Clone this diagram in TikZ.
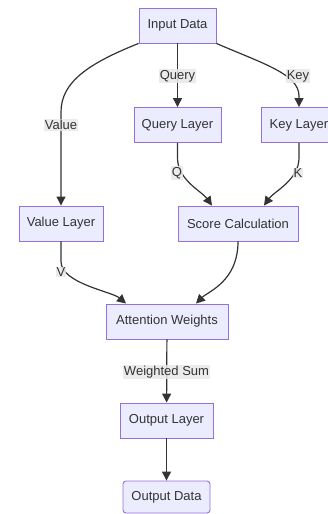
\documentclass[tikz,border=0pt]{standalone}
\usepackage{fontspec}
\setmainfont{Liberation Sans}
\usetikzlibrary{arrows.meta,calc}
\definecolor{boxfill}{HTML}{ECECFF}
\definecolor{boxline}{HTML}{9370DB}
\definecolor{ink}{HTML}{333333}
\definecolor{labfill}{HTML}{E8E8E8}

\begin{document}
\begin{tikzpicture}[x=1pt,y=-1pt,
  box/.style={draw=boxline,fill=boxfill,line width=0.9pt,text=ink,
    font=\fontsize{13}{15}\selectfont,minimum height=35pt,inner sep=0pt},
  edge/.style={draw=ink,line width=1.2pt,-{Triangle[length=9pt,width=9pt]}},
  lab/.style={fill=labfill,fill opacity=0.85,text opacity=1,text=ink,
    font=\fontsize{13}{15}\selectfont,inner sep=1pt}]
\useasboundingbox (0,0) rectangle (328,514);
\clip (0,0) rectangle (328,514);

% processing stages
\node[box,minimum width=77pt]  (in) at (177.5,25.5) {Input Data};
\node[box,minimum width=87pt]  (ql) at (177.5,125)  {Query Layer};
\node[box,minimum width=76pt]  (kl) at (299,125)    {Key Layer};
\node[box,minimum width=84pt]  (vl) at (61,223.5)   {Value Layer};
\node[box,minimum width=120pt] (sc) at (238,223.5)  {Score Calculation};
\node[box,minimum width=122pt] (aw) at (167,321.5)  {Attention Weights};
\node[box,minimum width=93pt]  (ol) at (166.5,420.5){Output Layer};
\node[box,minimum width=87pt,minimum height=32pt,rounded corners=3pt]
                               (od) at (166.5,497)  {Output Data};

% connections
\draw[edge] (in.south west) .. controls +(-50,20) and +(0,-30) .. (61,112) -- (vl.north);
\draw[edge] (in) -- (ql);
\draw[edge] (in.south east) .. controls +(46,20) and +(0,-22) .. (299,96) -- (kl.north);
\draw[edge] (ql.south) -- ++(0,15) .. controls +(0,22) and +(-10,-14) .. ($(sc.north)+(-26,0)$);
\draw[edge] (kl.south) -- ++(0,15) .. controls +(0,22) and +(10,-14) .. ($(sc.north)+(26,0)$);
\draw[edge] (vl.south) -- ++(0,20) .. controls +(0,22) and +(-14,-12) .. ($(aw.north)+(-41,0)$);
\draw[edge] (sc.south) .. controls +(0,40) and +(12,-12) .. ($(aw.north)+(29,0)$);
\draw[edge] (aw) -- (ol);
\draw[edge] (ol) -- (od);

% edge labels
\node[lab] (lq) at (177.5,76) {Query};
\node[lab] (lk) at (298,76)   {Key};
\node[lab] (lv) at (61,125)   {Value};
\node[lab] (lqq) at (177,173) {Q};
\node[lab] (lkk) at (298,173) {K};
\node[lab] (lvv) at (61,272)  {V};
\node[lab] (lw) at (166.5,372) {Weighted Sum};
\end{tikzpicture}
\end{document}
